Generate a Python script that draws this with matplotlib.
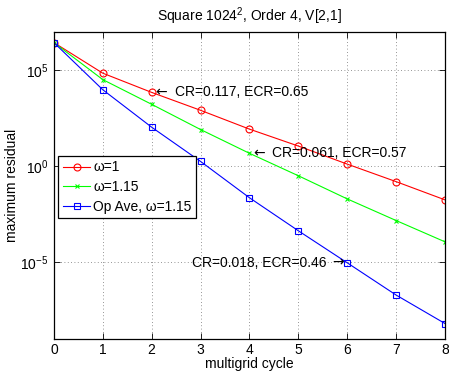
import matplotlib
matplotlib.use("Agg")
import matplotlib.pyplot as plt

plt.rcParams['font.family'] = ['Liberation Sans', 'DejaVu Sans']
plt.rcParams['mathtext.fontset'] = 'custom'
plt.rcParams['mathtext.rm'] = 'Liberation Sans'
plt.rcParams['mathtext.it'] = 'Liberation Sans'

cycles = [0, 1, 2, 3, 4, 5, 6, 7, 8]
res_w1 = [2.69e6, 6.9e4, 6.9e3, 8.1e2, 85, 11.2, 1.29, 0.158, 0.0178]
res_w115 = [2.69e6, 3.2e4, 1.66e3, 81, 4.7, 0.32, 0.020, 1.5e-3, 1.17e-4]
res_opave = [2.69e6, 9.5e3, 107, 1.78, 0.023, 4.4e-4, 9.5e-6, 2.0e-7, 6.6e-9]
labels = ['\u03c9=1', '\u03c9=1.15', 'Op Ave, \u03c9=1.15']
ann_texts = ['CR=0.117, ECR=0.65', 'CR=0.061, ECR=0.57', 'CR=0.018, ECR=0.46']
yticks = [1e-5, 1e0, 1e5]

fig = plt.figure(figsize=(4.49, 3.72), dpi=100)
ax = fig.add_axes([0.120, 0.088, 0.871, 0.827])

ax.plot(cycles, res_w1, color=(1, 0, 0), marker='o', ms=5, mfc='none', lw=0.8, mew=0.8, label=labels[0])
ax.plot(cycles, res_w115, color=(0, 1, 0), marker='x', ms=3.5, lw=0.8, mew=0.8, label=labels[1])
ax.plot(cycles, res_opave, color=(0, 0, 1), marker='s', ms=4.5, mfc='none', lw=0.8, mew=0.8, label=labels[2])

ax.set_yscale('log')
ax.set_xlim(0, 8)
ax.set_ylim(1e-9, 1e7)
ax.set_xticks(cycles)
ax.set_yticks(yticks)
ax.yaxis.set_minor_locator(matplotlib.ticker.NullLocator())
ax.tick_params(direction='in', top=True, right=True, labelsize=10, length=4, width=0.6)
ax.tick_params(axis='x', pad=3)
ax.tick_params(axis='y', pad=4)
ax.grid(True, linestyle=(0, (1, 3)), color='0.45', lw=0.6)
for s in ax.spines.values():
    s.set_linewidth(0.9)

ax.set_xlabel('multigrid cycle', fontsize=10, labelpad=0)
ax.set_ylabel('maximum residual', fontsize=10, labelpad=1)
ax.set_title('Square 1024$^2$, Order 4, V[2,1]', fontsize=10, pad=8)

arrow_kw = dict(fontsize=10, family='DejaVu Sans', va='center', textcoords='offset points')
lab_kw = dict(fontsize=10, va='center', textcoords='offset points')
ax.annotate('\u2190', (2, res_w1[2]), xytext=(2.5, 0), ha='left', **arrow_kw)
ax.annotate(ann_texts[0], (2, res_w1[2]), xytext=(16.5, 0), ha='left', **lab_kw)
ax.annotate('\u2190', (4, res_w115[4]), xytext=(2.5, 0), ha='left', **arrow_kw)
ax.annotate(ann_texts[1], (4, res_w115[4]), xytext=(16.5, 0), ha='left', **lab_kw)
ax.annotate('\u2192', (6, res_opave[6]), xytext=(-2.5, 0), ha='right', **arrow_kw)
ax.annotate(ann_texts[2], (6, res_opave[6]), xytext=(-15, 0), ha='right', **lab_kw)

leg = ax.legend(loc='upper left', bbox_to_anchor=(0.01, 0.597), fontsize=10, fancybox=False,
                framealpha=1, edgecolor='black', handlelength=2.0, borderpad=0.35,
                labelspacing=0.4, handletextpad=0.2, borderaxespad=0)
leg.get_frame().set_linewidth(0.9)

fig.savefig('out.png', dpi=100)
